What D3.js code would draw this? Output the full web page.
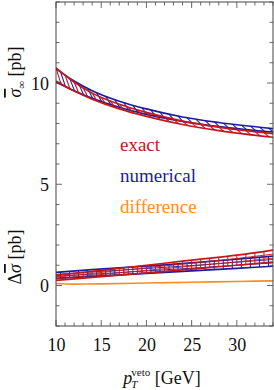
<!DOCTYPE html>
<html><head><meta charset="utf-8">
<script src="https://cdn.jsdelivr.net/npm/d3@7"></script>
<style>
html,body{margin:0;padding:0;background:#fff;}
svg text, svg tspan{font-family:"Liberation Serif","Times New Roman",serif !important;}
</style></head>
<body><svg id="c" width="274" height="390"></svg>
<script>
// ---- data ----
const xTop = [10, 12, 14, 17, 20, 24, 28, 34];
const exactTopHi = [10.75, 10.05, 9.5, 8.95, 8.55, 8.12, 7.82, 7.5];
const exactTopLo = [10.1, 9.6, 9.2, 8.72, 8.35, 7.95, 7.65, 7.32];
const numTopHi = [10.7, 10.1, 9.62, 9.1, 8.72, 8.32, 8.05, 7.75];
const numTopLo = [10.05, 9.62, 9.25, 8.8, 8.45, 8.1, 7.85, 7.58];

const xBot = [10, 14, 18, 22, 26, 30, 34];
const exactBotHi = [0.5, 0.7, 0.9, 1.1, 1.3, 1.5, 1.75];
const exactBotLo = [0.25, 0.4, 0.55, 0.7, 0.85, 1.0, 1.15];
const numBotHi = [0.65, 0.78, 0.9, 1.02, 1.15, 1.3, 1.45];
const numBotLo = [0.35, 0.45, 0.55, 0.65, 0.75, 0.85, 0.95];

const xDiff = [10, 12, 15, 20, 25, 30, 34];
const diffVals = [0.1, 0.07, 0.08, 0.12, 0.16, 0.2, 0.23];

const xTickLabels = [10, 15, 20, 25, 30];
const yTickLabels = [0, 5, 10];
const legendLabels = ["exact", "numerical", "difference"];

// ---- styles ----
const RED = "#c4161c", BLUE = "#1c1c9c", ORANGE = "#ff8c1e";
const SERIF = '"Liberation Serif","Times New Roman",serif';
const svg = d3.select("#c");
const L = 56, R = 273, T = 2, B = 326;
const x = d3.scaleLinear().domain([10, 34]).range([L, R]);
const y = d3.scaleLinear().domain([-2, 14]).range([B, T]);

svg.append("clipPath").attr("id", "pc").append("rect")
  .attr("x", L).attr("y", T).attr("width", R - L).attr("height", B - T);
const g = svg.append("g").attr("clip-path", "url(#pc)");

const lineGen = d3.line().x(d => x(d[0])).y(d => y(d[1])).curve(d3.curveMonotoneX);

// monotone cubic evaluation (Fritsch-Carlson) for hatch endpoints on the data curves
function evalCurve(xs, ys, xv) {
  const n = xs.length;
  let i = 0;
  while (i < n - 2 && xv > xs[i + 1]) i++;
  const d = [];
  for (let k = 0; k < n - 1; k++) d.push((ys[k + 1] - ys[k]) / (xs[k + 1] - xs[k]));
  const m = [];
  m[0] = d[0]; m[n - 1] = d[n - 2];
  for (let k = 1; k < n - 1; k++) m[k] = (d[k - 1] * d[k] <= 0) ? 0 : (d[k - 1] + d[k]) / 2;
  const h = xs[i + 1] - xs[i], t = (xv - xs[i]) / h;
  const h00 = 2*t*t*t - 3*t*t + 1, h10 = t*t*t - 2*t*t + t, h01 = -2*t*t*t + 3*t*t, h11 = t*t*t - t*t;
  return h00*ys[i] + h10*h*m[i] + h01*ys[i+1] + h11*h*m[i+1];
}

// ---- upper bands with diagonal hatching ----
function upperBand(xs, hi, lo, color, offset) {
  const hatch = g.append("g").attr("stroke", color).attr("stroke-width", 1.1);
  for (let xv = 10 + offset; xv < 34; xv += 1.0) {
    const x2 = xv + 0.55;
    hatch.append("line")
      .attr("x1", x(xv)).attr("y1", y(evalCurve(xs, hi, xv)))
      .attr("x2", x(x2)).attr("y2", y(evalCurve(xs, lo, x2)));
  }
  [hi, lo].forEach(arr => {
    g.append("path").datum(xs.map((v, i) => [v, arr[i]]))
      .attr("d", lineGen).attr("fill", "none").attr("stroke", color).attr("stroke-width", 1.7);
  });
}
upperBand(xTop, numTopHi, numTopLo, BLUE, 0.5);
upperBand(xTop, exactTopHi, exactTopLo, RED, 0.0);

// ---- lower bands with mesh ----
function lowerBand(xs, hi, lo, color, offset) {
  const mesh = g.append("g").attr("stroke", color).attr("stroke-width", 1.0);
  for (let xv = 10 + offset; xv < 34; xv += 1.0) {
    mesh.append("line")
      .attr("x1", x(xv)).attr("y1", y(evalCurve(xs, hi, xv)))
      .attr("x2", x(xv)).attr("y2", y(evalCurve(xs, lo, xv)));
  }
  [1/3, 2/3].forEach(f => {
    const mid = hi.map((v, i) => lo[i] + (v - lo[i]) * f);
    g.append("path").datum(xs.map((v, i) => [v, mid[i]]))
      .attr("d", lineGen).attr("fill", "none").attr("stroke", color).attr("stroke-width", 0.9);
  });
  [hi, lo].forEach(arr => {
    g.append("path").datum(xs.map((v, i) => [v, arr[i]]))
      .attr("d", lineGen).attr("fill", "none").attr("stroke", color).attr("stroke-width", 1.7);
  });
}
lowerBand(xBot, numBotHi, numBotLo, BLUE, 0.5);
lowerBand(xBot, exactBotHi, exactBotLo, RED, 0.0);

g.append("path").datum(xDiff.map((v, i) => [v, diffVals[i]]))
  .attr("d", lineGen).attr("fill", "none").attr("stroke", ORANGE).attr("stroke-width", 1.6);

// ---- frame & ticks ----
const frameColor = "#444";
svg.append("rect").attr("x", L).attr("y", T).attr("width", R - L).attr("height", B - T)
  .attr("fill", "none").attr("stroke", frameColor).attr("stroke-width", 1);

const xMinor = d3.range(10, 35, 1);
const yMinor = d3.range(-2, 15, 1);
const tk = svg.append("g").attr("stroke", frameColor).attr("stroke-width", 0.8);
xMinor.forEach(v => {
  const len = xTickLabels.includes(v) ? 6 : 3.5;
  tk.append("line").attr("x1", x(v)).attr("x2", x(v)).attr("y1", B).attr("y2", B - len);
  tk.append("line").attr("x1", x(v)).attr("x2", x(v)).attr("y1", T).attr("y2", T + len);
});
yMinor.forEach(v => {
  const len = yTickLabels.includes(v) ? 6 : 3.5;
  tk.append("line").attr("y1", y(v)).attr("y2", y(v)).attr("x1", L).attr("x2", L + len);
  tk.append("line").attr("y1", y(v)).attr("y2", y(v)).attr("x1", R).attr("x2", R - len);
});

// tick labels via axes
const xAxis = d3.axisBottom(x).tickValues(xTickLabels).tickSize(0).tickPadding(0);
const xa = svg.append("g").attr("transform", `translate(0,${B})`).call(xAxis)
  .attr("font-family", SERIF);
xa.select(".domain").remove();
xa.selectAll("text").attr("font-size", 18).attr("fill", "#111")
  .style("font-family", SERIF).attr("dy", null).attr("y", 25);

const yAxis = d3.axisLeft(y).tickValues(yTickLabels).tickSize(0).tickPadding(0);
const ya = svg.append("g").attr("transform", `translate(${L},0)`).call(yAxis)
  .attr("font-family", SERIF);
ya.select(".domain").remove();
ya.selectAll("text").attr("font-size", 18).attr("fill", "#111")
  .style("font-family", SERIF).attr("x", -7).attr("dy", "0.35em");

// ---- axis titles ----
const t1 = svg.append("text").attr("transform", "translate(21,72) rotate(-90)")
  .attr("text-anchor", "middle").attr("font-size", 18).attr("fill", "#111");
t1.append("tspan").attr("font-style", "italic").style("text-decoration", "overline").text("σ");
t1.append("tspan").attr("font-size", 11).attr("dy", 4).text("∞");
t1.append("tspan").attr("dy", -4).text(" [pb]");

const t2 = svg.append("text").attr("transform", "translate(21,257) rotate(-90)")
  .attr("text-anchor", "middle").attr("font-size", 18).attr("fill", "#111");
t2.append("tspan").text("Δ");
t2.append("tspan").attr("font-style", "italic").style("text-decoration", "overline").text("σ");
t2.append("tspan").text(" [pb]");

const t3 = svg.append("text").attr("x", 162).attr("y", 384)
  .attr("text-anchor", "middle").attr("font-size", 18).attr("fill", "#111");
t3.append("tspan").attr("font-style", "italic").text("p");
t3.append("tspan").attr("font-size", 11).attr("font-style", "italic").attr("dy", 4).attr("dx", -1).text("T");
t3.append("tspan").attr("font-size", 11).attr("dy", -12).attr("dx", -6).text("veto");
t3.append("tspan").attr("dy", 8).text(" [GeV]");

// ---- legend ----
const legColors = [RED, BLUE, ORANGE];
legendLabels.forEach((lab, i) => {
  svg.append("text").attr("x", 120).attr("y", 151 + i * 31)
    .attr("font-size", 19).attr("fill", legColors[i]).text(lab);
});
</script></body></html>
